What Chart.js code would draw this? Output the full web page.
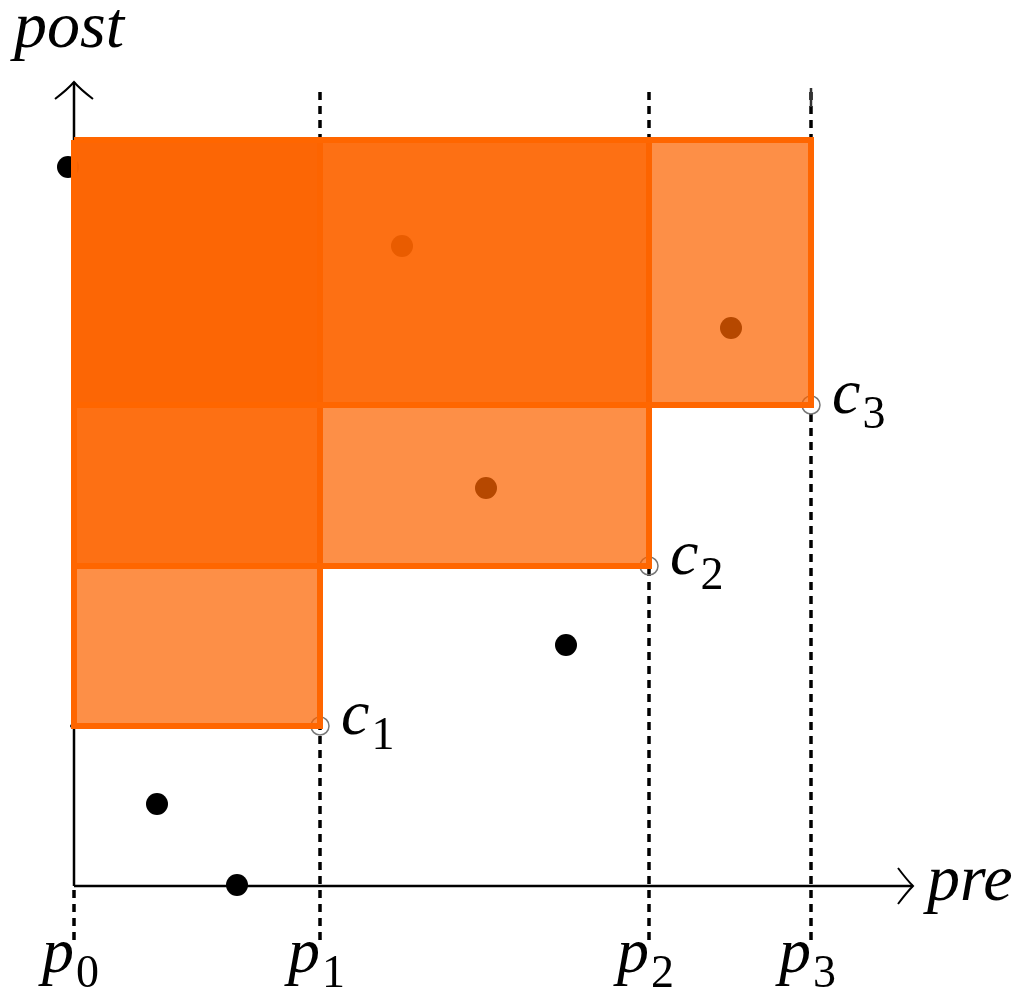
<!DOCTYPE html>
<html lang="en">
<head>
  <meta charset="UTF-8" />
  <title>pre / post</title>
  <script src="https://cdn.jsdelivr.net/npm/chart.js"></script>
  <style>
    html, body { margin: 0; padding: 0; background: #fff; }
    #wrap { width: 1020px; height: 989px; }
  </style>
</head>
<body>
  <div id="wrap"><canvas id="prePost"></canvas></div>

  <script>
    // values (data units, origin at p0)
    const pTicks = [0, 2.46, 5.75, 7.37];
    const pSubs = ['0', '1', '2', '3'];
    const cPre = [2.46, 5.75, 7.37];
    const cPost = [1.60, 3.20, 4.81];
    const cSubs = ['1', '2', '3'];
    const postTop = 7.46;
    const ptsPre = [-0.06, 0.83, 1.63, 4.92, 3.28, 4.12, 6.57];
    const ptsPost = [7.19, 0.82, 0.01, 2.41, 6.40, 3.98, 5.58];
    const preMax = 8.39, postMax = 8.04;
    const guideTop = 7.98, guideBottom = -0.54;

    const serif = "'Liberation Serif', 'Times New Roman', serif";
    const fillCol = 'rgba(252, 100, 0, 0.72)';
    const edgeCol = '#ff6600';

    const datasets = [];

    // dotted guides at p0..p3
    pTicks.forEach((p, i) => {
      datasets.push({
        type: 'line', order: 20,
        data: [{ x: p, y: guideBottom }, { x: p, y: i === 0 ? 0 : guideTop }],
        borderColor: '#000', borderWidth: 3.5, borderDash: [8, 6],
        pointRadius: 0, fill: false
      });
    });

    // dashed staircase through c1..c3
    const stairs = [{ x: -0.04, y: cPost[0] }];
    cPre.forEach((p, i) => {
      stairs.push({ x: p, y: cPost[i] });
      stairs.push({ x: p, y: i < cPre.length - 1 ? cPost[i + 1] : guideTop });
    });
    datasets.push({
      type: 'line', order: 19, data: stairs,
      borderColor: '#333', borderWidth: 2.5, borderDash: [38, 30],
      pointRadius: 0, fill: false, tension: 0
    });

    // black points
    datasets.push({
      type: 'scatter', order: 18,
      data: ptsPre.map((v, i) => ({ x: v, y: ptsPost[i] })),
      backgroundColor: '#000', borderWidth: 0, pointRadius: 11
    });

    // hollow corner markers
    datasets.push({
      type: 'scatter', order: 17,
      data: cPre.map((v, i) => ({ x: v, y: cPost[i] })),
      backgroundColor: 'rgba(255,255,255,0)', borderColor: '#777',
      borderWidth: 1.5, pointRadius: 9
    });

    // dominated rectangles: fill + outline
    cPre.forEach((p, i) => {
      datasets.push({
        type: 'line', order: 10 - i * 2,
        data: [{ x: pTicks[0], y: postTop }, { x: p, y: postTop }],
        borderWidth: 0, pointRadius: 0,
        backgroundColor: fillCol, fill: { value: cPost[i] }
      });
      datasets.push({
        type: 'line', order: 9 - i * 2,
        data: [
          { x: pTicks[0], y: postTop }, { x: p, y: postTop },
          { x: p, y: cPost[i] }, { x: pTicks[0], y: cPost[i] },
          { x: pTicks[0], y: postTop }
        ],
        borderColor: edgeCol, borderWidth: 6, borderJoinStyle: 'miter',
        pointRadius: 0, fill: false, tension: 0
      });
    });

    function subText(ctx, base, sub, left, baseline) {
      ctx.font = 'italic 64px ' + serif;
      ctx.fillText(base, left, baseline);
      const w = ctx.measureText(base).width;
      ctx.font = '46px ' + serif;
      ctx.fillText(sub, left + w + 2, baseline + 15);
    }

    const axesPlugin = {
      id: 'axes',
      beforeDatasetsDraw(chart) {
        const { ctx, scales: { x, y } } = chart;
        const x0 = x.getPixelForValue(0), y0 = y.getPixelForValue(0);
        const xe = x.getPixelForValue(preMax), ye = y.getPixelForValue(postMax);
        ctx.save();
        ctx.strokeStyle = '#000';
        ctx.lineWidth = 2.5;
        ctx.beginPath();
        ctx.moveTo(x0, y0); ctx.lineTo(xe, y0);
        ctx.moveTo(x0, y0); ctx.lineTo(x0, ye);
        ctx.stroke();
        // arrow heads
        ctx.lineWidth = 2;
        ctx.beginPath();
        ctx.moveTo(xe - 15, y0 - 18); ctx.quadraticCurveTo(xe - 6, y0 - 6, xe, y0);
        ctx.quadraticCurveTo(xe - 6, y0 + 6, xe - 15, y0 + 18);
        ctx.moveTo(x0 - 19, ye + 17); ctx.quadraticCurveTo(x0 - 6, ye + 7, x0, ye);
        ctx.quadraticCurveTo(x0 + 6, ye + 7, x0 + 19, ye + 17);
        ctx.stroke();
        ctx.restore();
      },
      afterDraw(chart) {
        const { ctx, scales: { x, y } } = chart;
        const x0 = x.getPixelForValue(0), y0 = y.getPixelForValue(0);
        ctx.save();
        ctx.fillStyle = '#000';
        ctx.textBaseline = 'alphabetic';
        ctx.textAlign = 'left';
        ctx.font = 'italic 66px ' + serif;
        ctx.fillText('post', x0 - 60, 47);
        ctx.fillText('pre', x.getPixelForValue(preMax) + 14, y0 + 14);
        pTicks.forEach((p, i) => {
          ctx.font = 'italic 64px ' + serif;
          const w = ctx.measureText('p').width;
          subText(ctx, 'p', pSubs[i], x.getPixelForValue(p) - 16 - w / 2, y0 + 86);
        });
        cPre.forEach((p, i) => {
          subText(ctx, 'c', cSubs[i], x.getPixelForValue(p) + 21, y.getPixelForValue(cPost[i]) + 8);
        });
        ctx.restore();
      }
    };

    new Chart(document.getElementById('prePost'), {
      type: 'scatter',
      data: { datasets },
      options: {
        responsive: true,
        maintainAspectRatio: false,
        animation: false,
        events: [],
        layout: { padding: 0, autoPadding: false },
        plugins: { legend: { display: false }, tooltip: { enabled: false } },
        scales: {
          x: { type: 'linear', min: -0.74, max: 9.46, display: false },
          y: { type: 'linear', min: -1.03, max: 8.86, display: false }
        }
      },
      plugins: [axesPlugin]
    });
  </script>
</body>
</html>
